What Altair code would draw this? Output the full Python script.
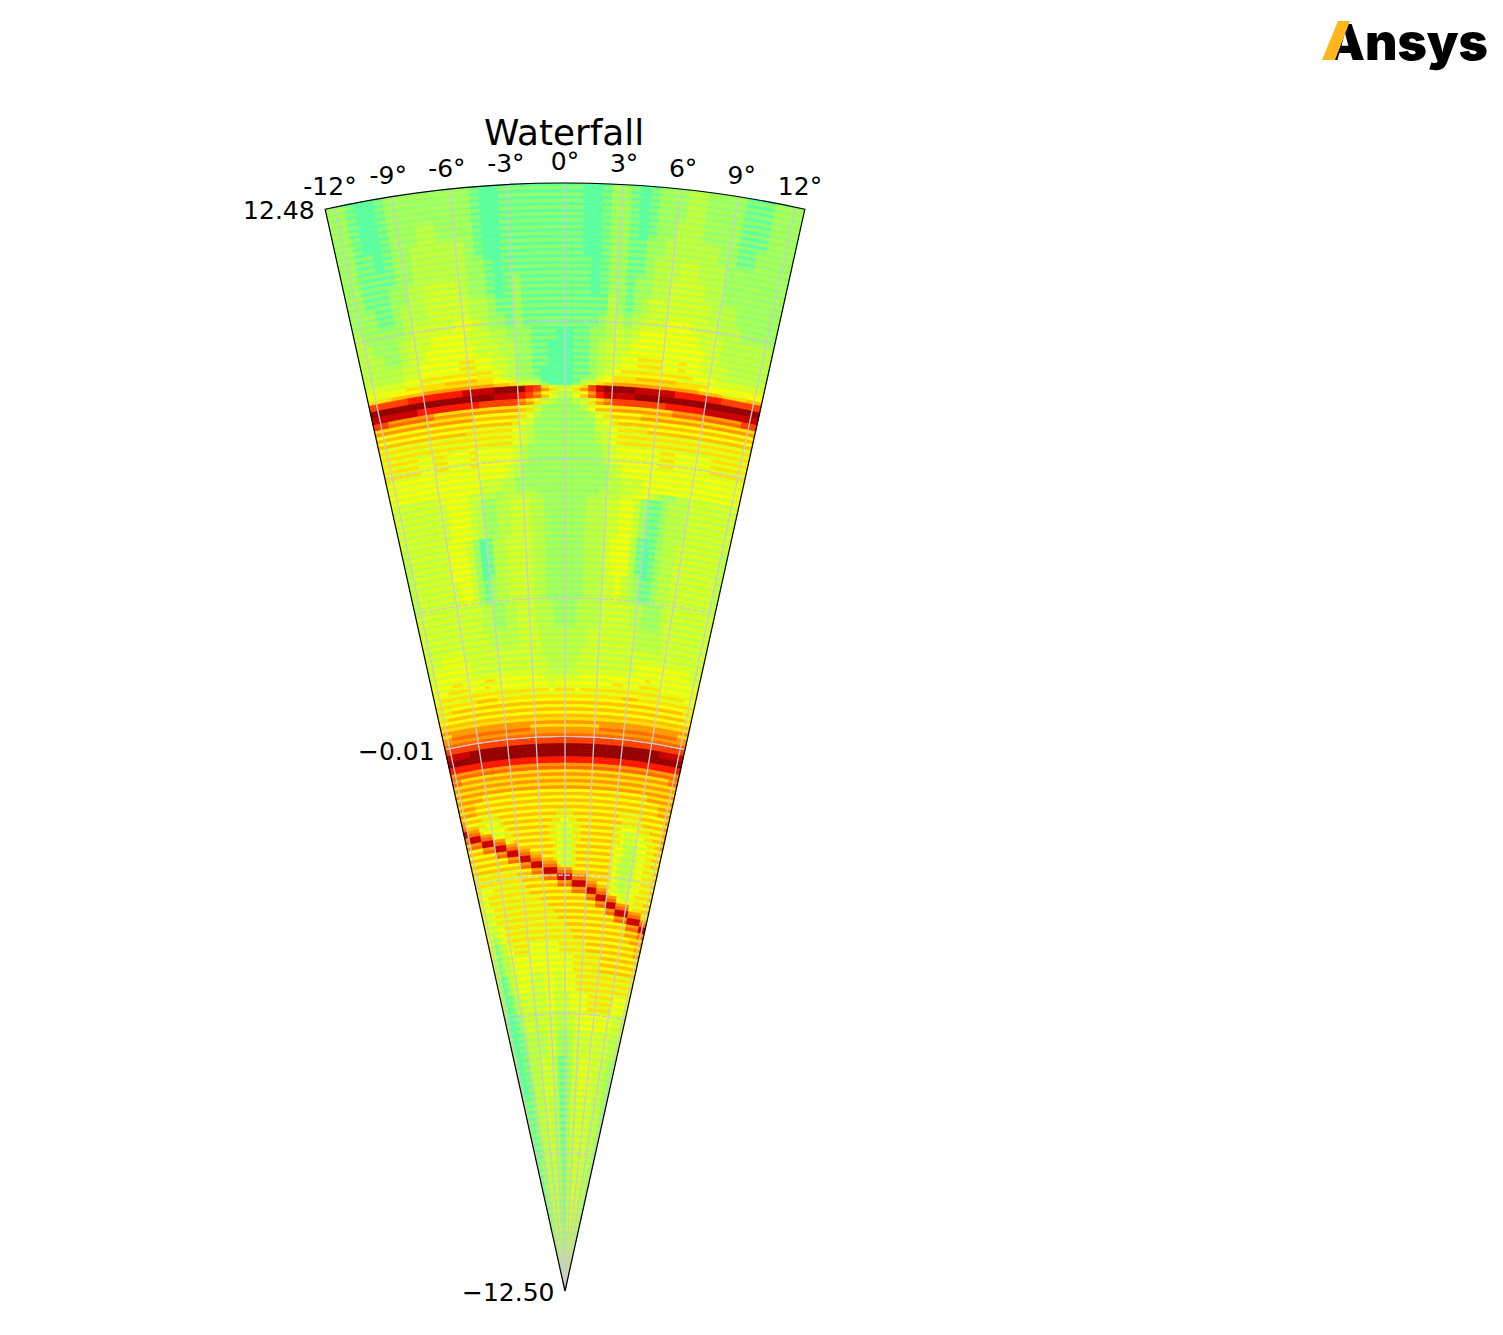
import altair as alt
import pandas as pd

alt.data_transformers.disable_max_rows()

# Levels. Each line: first range row it applies from (0 = far range, 170 rows in all),
# then one char per half degree from -12.5 to +12.5, in groups of 2.5 degrees.
blocks = """
0 22100 12222 22222 10011 11111 11001 22101 22233 22221 11222
5 22100 12223 32222 10011 11111 11001 22101 22333 22221 11222
8 22110 12233 33332 10011 11111 11001 22112 23333 33221 12222
11 22111 12233 33332 21011 11111 11101 22112 33344 33322 22222
14 22111 22334 44432 21012 11111 11101 22122 33444 43322 22222
17 22211 23334 44443 32112 11111 11111 32123 44444 44333 22222
20 32222 23444 44554 32212 11111 11112 33234 44555 44433 32222
22 33222 34445 55544 43322 21110 01122 34345 55555 54443 33333
24 33322 34455 55554 44332 21100 01123 44455 55555 55443 33333
26 33333 44555 55665 54432 21100 01123 44556 66556 55444 33333
28 44444 55666 66666 65432 21000 01123 45666 66666 65554 44444
29 55555 66666 77776 65432 21000 01124 56667 77776 66655 55555
30 66677 77888 88888 87764 43100 01346 78888 88888 88777 66677
31 aaaaa bbbbb bbccc cdddd ba864 468ac ddddc ccccb bbbbb aaaaa
32 ddddd ddddd ddddd dcccb a9753 3579b ccccd ddddd ddddd ddddd
33 ccccc cbbbb bbbba aaaa9 86432 23468 9aaaa aaabb bbbcc ccccc
34 aa999 99988 88888 88887 64222 22357 78888 88889 99999 999aa
35 88888 88888 88877 77776 53222 22235 67777 88888 88888 88888
36 77777 77777 77777 77765 42222 22224 56777 77777 77777 77777
37 77777 77777 77666 66654 32222 22224 45666 67777 77777 77777
38 66666 66666 66666 66654 32222 22223 45666 66666 66666 66666
40 66666 55665 55655 55543 22222 22222 34555 55566 55555 66666
43 55555 55555 55555 55432 22222 22222 23455 55555 55555 55555
45 55555 55555 55544 43322 22222 22222 23344 45555 55555 55555
47 44444 44555 54433 23333 32222 22222 33344 55432 23344 44444
48 44444 44455 54322 33444 33222 22233 34455 42112 33344 44444
54 34444 44555 42013 34444 33222 22233 34555 31012 33444 44443
60 34444 44455 42123 34444 33222 22233 34454 32112 33444 44443
64 44444 44444 43322 33444 33322 22333 34444 43322 23444 44444
68 44444 44444 44333 33444 43333 33334 44444 44333 33444 44444
71 44455 55444 44444 44444 43333 33344 44444 44444 44444 44444
73 45555 55544 44444 44444 44333 33444 44444 44455 55555 55544
75 55556 65555 66555 55555 54444 44455 55555 55555 65555 55555
76 55566 66555 65555 55555 55455 55555 55556 65556 66655 55555
77 56666 66666 66666 66666 66566 66566 66666 66666 66666 66655
78 66666 66677 77666 66666 66666 66666 66666 67776 66666 66666
79 66677 77777 77777 77777 77777 77777 77777 77777 77777 77766
80 66777 77777 77777 77777 77777 77777 77777 77777 77777 77776
81 77777 77777 77777 77777 77777 77777 77777 77777 77777 77777
82 88888 88888 88888 88888 88888 88888 88888 88888 88888 88888
83 88999 99999 99999 99988 88888 88888 88999 99999 99999 99988
84 99999 99999 99999 99999 99999 99999 99999 99999 99999 99999
85 aaaaa aaaaa aaaaa aaaaa aaaaa aaaaa aaaaa aaaaa aaaaa aaaaa
86 ccccc ddddd ddddd ddddd ddddd ddddd ddddd ddddd ddddd ccccc
87 ddddd ddddd ddddd ddddd ddddd ddddd ddddd ddddd ddddd ddddd
88 bbbbb bbbbb bbbbb bbbbb bbbbb bbbbb bbbbb bbbbb bbbbb bbbbb
89 99999 99999 99999 99999 99999 99999 99999 99999 99999 99999
90 99888 88888 88888 88888 88888 88888 88888 88888 88888 88899
91 88888 88888 88888 88888 88888 88888 88888 88888 88888 88888
93 88888 87777 77777 77777 77777 77777 77777 77777 77778 88888
94 88887 77777 77777 77777 77777 77777 77777 77777 77777 77888
96 87777 66667 77777 77777 77766 66777 77777 77766 66677 77778
97 97776 65556 77777 77777 77665 56677 77777 77776 66667 77778
98 c9996 55555 67777 77777 76654 45667 77777 77665 55566 67778
99 9ccc9 99555 66777 77777 76654 44667 77777 77665 44555 66778
100 8999c cc999 56777 77777 76654 44667 77777 77665 44455 56678
101 77779 99ccc 99977 77777 77654 44677 77777 77655 43345 56677
102 77777 77999 ccc99 97777 77654 44677 77777 77655 43345 56677
103 77777 77777 999cc c9997 77654 44677 77777 77654 33345 56677
104 77777 77777 77799 9ccc9 99964 44677 77777 77654 33345 56667
105 66666 66666 66777 7999c ccc99 99777 77777 77654 33345 56667
106 66666 66666 66677 77779 999cc cc999 97777 77654 33345 56667
107 65555 66666 66667 77777 77799 99ccc c9997 77654 33445 56667
108 65566 66666 66666 77777 77777 77999 9ccc9 99655 44455 66667
109 55566 66666 66666 66677 77777 77777 7999c cc999 55455 66677
110 55556 66666 66666 66666 77777 77777 77779 99ccc 99995 66677
111 54456 66666 66666 66666 66777 77777 77777 77999 cccc9 99966
112 54456 66666 66666 66666 66677 77777 77777 77777 9999c ccc99
113 54445 56666 66666 66666 66666 77777 77777 77777 77779 999cc
114 54345 56666 66666 66666 66666 66777 77777 77777 77778 88899
115 54234 56666 66666 66666 66666 66677 77777 77777 77777 78888
116 54123 45566 66655 55555 55566 66666 66777 77777 77777 77788
118 43123 34555 55555 55555 55555 55566 66666 66777 77777 77777
121 42012 34455 55444 44555 55445 55556 66666 66666 66666 66666
124 32011 23344 44444 44455 54444 44555 55556 66666 66665 55555
127 21001 12334 44334 44444 44333 33444 55555 55555 55555 44444
130 21001 11233 33333 33444 43222 22334 44444 44544 44444 33333
134 21001 11233 33344 44444 32111 12234 44455 45544 44433 33222
140 21111 12233 33344 43333 32111 12234 44444 44444 43333 33222
150 21112 22233 33333 33333 32211 22233 33444 44444 33333 33222
160 22222 22233 33333 33333 32222 22233 33333 33333 33333 33222
""".strip().splitlines()

N_ROWS = 170
rows = [""] * N_ROWS
for k, line in enumerate(blocks):
    parts = line.split()
    start = int(parts[0])
    end = int(blocks[k + 1].split()[0]) if k + 1 < len(blocks) else N_ROWS
    text = "".join(parts[1:])
    for i in range(start, end):
        rows[i] = text[:50].ljust(50, text[-1])

level_colors = ["#5cff9e", "#90ff6c", "#acff52", "#c4ff38", "#dcff1e", "#f6ff04", "#ffe000",
                "#ffc000", "#ff9a00", "#ff6c00", "#ff4000", "#ff1800", "#c80000", "#960000"]
angle_ticks = [-12, -9, -6, -3, 0, 3, 6, 9, 12]
angle_labels = ["-12°", "-9°", "-6°", "-3°", "0°", "3°", "6°", "9°", "12°"]
range_labels = ["12.48", "−0.01", "−12.50"]
range_label_values = [12.48, -0.01, -12.50]
grid_solid = [0.0]
grid_dashed = [-9.375, -6.25, -3.125, 3.125, 6.25, 9.375]

A_MIN, A_MAX = -12.5, 12.5
R_MIN, R_MAX = -12.5, 12.48
R_PX = 1108.0
CX, CY = 557, 1283
step = (R_MAX - R_MIN) / N_ROWS

cells = []
for i, row in enumerate(rows):
    top = R_MAX - i * step
    for j, ch in enumerate(row):
        v = int(ch, 16)
        a = -12.5 + j * 0.5
        s = v - 1 if v <= 3 else v - 1.5 if v <= 5 else v - 2 if v <= 8 else v - 1 if v == 9 else v
        cells.append(dict(a=a, a2=a + 0.5, r=top - step * 0.35, r2=top - step, v=v))
        cells.append(dict(a=a, a2=a + 0.5, r=top, r2=top - step * 0.35, v=s))
df = pd.DataFrame(cells)

theta_scale = alt.Scale(domain=[A_MIN, A_MAX], range=[-0.218166, 0.218166])
radius_scale = alt.Scale(type="linear", domain=[R_MIN, R_MAX], range=[0, R_PX])
color_scale = alt.Scale(domain=list(range(14)), range=level_colors, interpolate="rgb", clamp=True)
cx, cy = alt.value(CX), alt.value(CY)


def polar(**kw):
    return dict(
        theta=alt.Theta("a:Q", scale=theta_scale),
        radius=alt.Radius("r:Q", scale=radius_scale),
        x=cx, y=cy, **kw)


heat = alt.Chart(df).mark_arc(strokeWidth=0.7).encode(
    **polar(theta2="a2:Q", radius2="r2:Q",
            color=alt.Color("v:Q", scale=color_scale, legend=None),
            stroke=alt.Stroke("v:Q", scale=color_scale, legend=None)))

GRID = "#cccccc"
radial = alt.Chart(pd.DataFrame(dict(a=angle_ticks, a2=angle_ticks, r=[R_MAX] * 9, r2=[R_MIN] * 9))).mark_arc(
    fillOpacity=0, stroke=GRID, strokeWidth=1.3).encode(**polar(theta2="a2:Q", radius2="r2:Q"))

solid = alt.Chart(pd.DataFrame(dict(a=[-12.5], a2=[12.5], r=grid_solid, r2=grid_solid))).mark_arc(
    fillOpacity=0, stroke=GRID, strokeWidth=1.0).encode(**polar(theta2="a2:Q", radius2="r2:Q"))

dash_rows = []
for g in grid_dashed:
    px = (g - R_MIN) / (R_MAX - R_MIN) * R_PX
    deg = 7.0 / px * 57.2958
    a = -12.5
    while a < 12.5:
        dash_rows.append(dict(a=a, a2=min(a + deg * 0.68, 12.5), r=g, r2=g))
        a += deg
dashed = alt.Chart(pd.DataFrame(dash_rows)).mark_arc(
    fillOpacity=0, stroke=GRID, strokeWidth=1.0).encode(**polar(theta2="a2:Q", radius2="r2:Q"))

outline = alt.Chart(pd.DataFrame(dict(a=[A_MIN], a2=[A_MAX], r=[R_MAX], r2=[R_MIN]))).mark_arc(
    fillOpacity=0, stroke="black", strokeWidth=1.2).encode(**polar(theta2="a2:Q", radius2="r2:Q"))

FONT = "DejaVu Sans"
theta_text = alt.Chart(pd.DataFrame(dict(a=angle_ticks, r=[12.98] * 9, t=angle_labels))).mark_text(
    font=FONT, fontSize=25, color="black", align="center", baseline="middle", dy=1.5).encode(
    **polar(text="t:N"))
range_text = alt.Chart(pd.DataFrame(dict(a=[-12.5] * 3, r=range_label_values, t=range_labels))).mark_text(
    font=FONT, fontSize=25, color="black", align="right", baseline="middle", dx=-10.5, dy=2).encode(
    **polar(text="t:N"))

anchor = pd.DataFrame(dict(t=["Waterfall"]))
title = alt.Chart(anchor).mark_text(
    font=FONT, fontSize=35.8, color="black", align="center", baseline="middle").encode(
    x=alt.value(556), y=alt.value(126), text="t:N")

logo_text = alt.Chart(pd.DataFrame(dict(t=["Ansys"]))).mark_text(
    font="Inter", fontSize=50, fontWeight=900, color="black", align="right", baseline="alphabetic").encode(
    x=alt.value(1480), y=alt.value(52), text="t:N")
logo_mark = alt.Chart(pd.DataFrame(dict(t=["slash"]))).mark_point(
    shape="M0.1,-0.975L0.7,-0.975L-0.05,0.975L-0.7,0.975Z", filled=True, size=1600,
    color="#FFB71B", opacity=1, strokeWidth=0).encode(x=alt.value(1328), y=alt.value(32.5))

chart = alt.layer(heat, radial, solid, dashed, outline, theta_text, range_text, title, logo_text, logo_mark).properties(
    width=1487, height=1319, padding=0, background="white"
).configure_view(stroke=None)

chart.save("out.html", embed_options={"renderer": "svg", "actions": False})
